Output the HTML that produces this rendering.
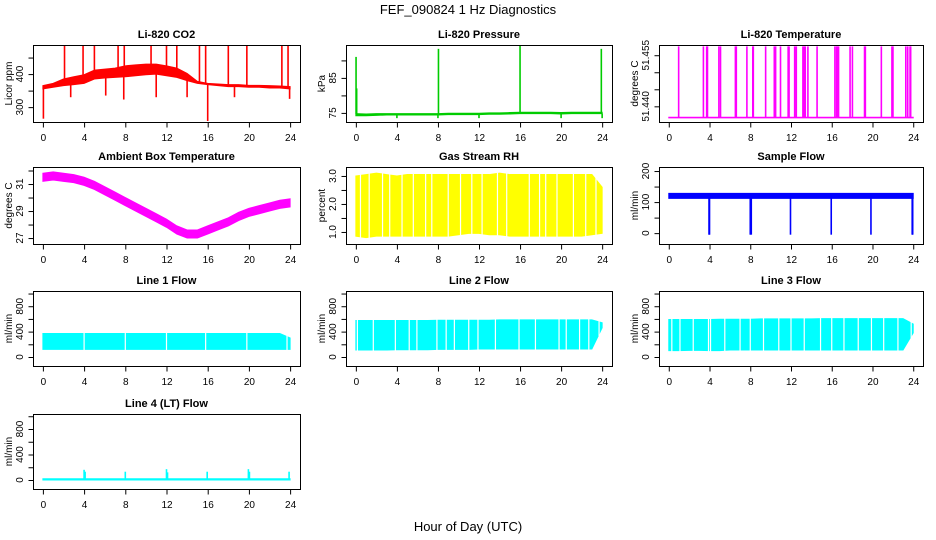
<!DOCTYPE html>
<html><head><meta charset="utf-8"><style>
html,body{margin:0;padding:0;background:#fff;}
svg{display:block;font-family:"Liberation Sans",sans-serif;}
</style></head><body>
<svg id="chart" width="936" height="540" viewBox="0 0 936 540">
<text x="468" y="14" text-anchor="middle" font-size="13">FEF_090824  1 Hz Diagnostics</text>
<text x="468" y="531" text-anchor="middle" font-size="13">Hour of Day (UTC)</text>
</svg>
<script>
const hours = [0,1,2,3,4,5,6,7,8,9,10,11,12,13,14,15,16,17,18,19,20,21,22,23,24];
const xTicks = [0,4,8,12,16,20,24];
// CO2
const co2Lo = [355,360,365,368,372,385,388,390,392,395,398,400,395,390,380,372,368,365,362,362,360,360,358,358,355];
const co2Hi = [365,372,385,392,398,412,415,418,425,428,430,430,425,418,402,378,372,370,368,368,366,366,365,364,362];
const co2SpikeH = [0.05,2.1,3.9,5.0,7.3,7.9,10.5,12.0,13.0,15.2,15.8,18.0,19.8,23.2,23.8,16.0,7.85,6.1,11.0,14.0,23.95,2.7,18.6];
const co2SpikeV = [265,488,488,488,488,488,488,488,488,488,488,488,488,488,488,258,323,335,330,330,325,330,330];
// Pressure
const prLo = [74.2,74.2,74.3,74.4,74.4,74.4,74.4,74.4,74.4,74.5,74.5,74.5,74.5,74.6,74.6,74.7,74.8,74.8,74.8,74.8,74.7,74.8,74.8,74.8,74.8];
const prHi = [74.8,74.7,74.8,74.8,74.8,74.8,74.8,74.8,74.8,74.9,74.9,74.9,74.9,75.0,75.0,75.1,75.2,75.2,75.2,75.2,75.1,75.2,75.2,75.2,75.2];
const prSpikeH = [0.02,0.08,8.05,16.0,23.92,4.0,8.0,12.0,20.0,24.0];
const prSpikeV = [91,82,93.3,94.2,93.3,73.5,73.5,73.5,73.5,73.5];
// Li-820 temperature
const ltLo = hours.map(()=>51.4366);
const ltHi = hours.map(()=>51.4368);
const ltSpikeH = [0.97,3.40,3.72,3.8,4.92,5.08,6.54,6.63,7.67,8.25,8.3,9.51,10.36,10.49,10.97,11.72,11.81,12.36,12.52,13.17,13.3,13.40,13.66,14.56,16.31,16.47,16.55,16.67,17.80,18.03,19.22,19.3,20.87,21.91,22.01,23.27,23.46,23.69,23.75];
const ltSpikeV = ltSpikeH.map(()=>51.4576);
// Ambient box temperature
const atLo = [31.2,31.3,31.2,31.1,30.9,30.6,30.2,29.8,29.4,29.0,28.6,28.2,27.8,27.3,27.0,27.0,27.3,27.6,27.9,28.3,28.6,28.8,29.0,29.2,29.3];
const atHi = [31.8,31.9,31.8,31.7,31.5,31.2,30.8,30.4,30.0,29.6,29.2,28.8,28.4,27.9,27.6,27.6,27.9,28.2,28.5,28.9,29.2,29.4,29.6,29.8,29.9];
// RH
const rhLo = [0.85,0.8,0.85,0.85,0.85,0.85,0.85,0.85,0.85,0.85,0.9,0.95,0.95,0.9,0.9,0.85,0.85,0.85,0.85,0.85,0.85,0.85,0.85,0.9,0.95];
const rhHi = [3.0,3.05,3.1,3.05,3.0,3.05,3.05,3.05,3.05,3.05,3.05,3.05,3.05,3.05,3.1,3.05,3.05,3.05,3.05,3.05,3.05,3.05,3.05,3.05,2.6];
const rhGapH = [0.45,1.3,2.6,3.3,4.5,5.6,6.8,7.4,9.0,10.2,11.3,12.3,13.8,14.7,16.9,17.9,18.5,19.6,21.2,22.4,23.4];
// Sample flow
const sfLo = hours.map(()=>112);
const sfHi = hours.map(()=>128);
const sfSpikeH = [3.95,4.0,8.0,8.1,11.95,15.95,19.85,23.9,23.95];
const sfSpikeV = [-5,-5,-5,-5,-5,-5,-5,-5,-5];
// Line 1 flow
const l1Lo = hours.map(()=>120);
const l1Hi = [370,370,370,370,370,370,370,370,370,370,370,370,370,370,370,370,370,370,370,370,370,370,370,370,300];
const l1GapH = [4.0,8.0,12.0,15.8,19.8,23.7];
// Line 2 flow
const l2Lo = [110,110,110,110,115,115,115,115,120,120,120,120,125,125,125,125,125,125,125,125,125,125,125,125,460];
const l2Hi = [575,575,575,575,575,575,575,575,580,580,580,580,580,580,585,585,585,585,585,585,585,585,585,585,540];
const l2GapH = [0.15,1.7,3.85,5.2,5.95,7.9,8.8,9.6,11.0,11.9,13.6,15.9,17.5,19.8,20.5,21.8,22.7,23.7];
// Line 3 flow
const l3Lo = [100,100,105,105,100,100,110,110,110,110,110,110,110,110,110,110,110,110,110,110,110,110,110,110,380];
const l3Hi = [590,590,590,590,590,595,595,595,595,600,600,600,600,600,600,605,605,605,605,605,605,605,605,605,520];
const l3GapH = [0.3,1.1,2.4,3.9,4.1,5.5,7.0,8.0,9.3,10.8,12.0,13.3,14.9,16.0,17.2,18.6,19.9,21.1,22.5,23.8];
// Line 4 flow
const l4Lo = hours.map(()=>0);
const l4Hi = hours.map(()=>20);
const l4SpikeH = [4.0,4.1,8.0,12.0,12.1,15.95,19.95,20.05,23.9];
const l4SpikeV = [160,130,130,170,120,130,170,130,130];

const svg = document.getElementById('chart');
const NS = 'http://www.w3.org/2000/svg';
function mk(tag, attrs, parent){const e=document.createElementNS(NS,tag);for(const k in attrs)e.setAttribute(k,attrs[k]);(parent||svg).appendChild(e);return e;}
function interp(arr,h){const i=Math.min(23,Math.max(0,Math.floor(h)));const f=h-i;return arr[i]*(1-f)+arr[i+1]*f;}

const colX=[[33,300],[346,612],[659,923]];
const rowY=[[45,122],[167,244],[291,366],[414,489]];
const panels=[
 {key:'co2',title:'Li-820 CO2',ylab:'Licor ppm',c:0,r:0,ylim:[255,488],yt:[300,350,400,450],yl:[300,400],col:'#ff0000',lo:co2Lo,hi:co2Hi,sh:co2SpikeH,sv:co2SpikeV},
 {key:'pressure',title:'Li-820 Pressure',ylab:'kPa',c:1,r:0,ylim:[72.4,94.4],yt:[75,80,85,90],yl:[75,85],col:'#00cc00',lo:prLo,hi:prHi,sh:prSpikeH,sv:prSpikeV},
 {key:'licor-temp',title:'Li-820 Temperature',ylab:'degrees C',c:2,r:0,ylim:[51.4354,51.458],yt:[51.440,51.445,51.450,51.455],yl:[51.440,51.455],dec:3,col:'#ff00ff',lo:ltLo,hi:ltHi,sh:ltSpikeH,sv:ltSpikeV},
 {key:'ambient-temp',title:'Ambient Box Temperature',ylab:'degrees C',c:0,r:1,ylim:[26.56,32.26],yt:[27,28,29,30,31,32],yl:[27,29,31],col:'#ff00ff',lo:atLo,hi:atHi},
 {key:'rh',title:'Gas Stream RH',ylab:'percent',c:1,r:1,ylim:[0.57,3.32],yt:[1.0,1.5,2.0,2.5,3.0],yl:[1.0,2.0,3.0],dec:1,col:'#ffff00',lo:rhLo,hi:rhHi,gaps:rhGapH},
 {key:'sample-flow',title:'Sample Flow',ylab:'ml/min',c:2,r:1,ylim:[-35,213],yt:[0,50,100,150,200],yl:[0,100,200],col:'#0000ff',lo:sfLo,hi:sfHi,sh:sfSpikeH,sv:sfSpikeV},
 {key:'line1-flow',title:'Line 1 Flow',ylab:'ml/min',c:0,r:2,ylim:[-142,1040],yt:[0,200,400,600,800,1000],yl:[0,400,800],col:'#00ffff',lo:l1Lo,hi:l1Hi,gaps:l1GapH},
 {key:'line2-flow',title:'Line 2 Flow',ylab:'ml/min',c:1,r:2,ylim:[-142,1040],yt:[0,200,400,600,800,1000],yl:[0,400,800],col:'#00ffff',lo:l2Lo,hi:l2Hi,gaps:l2GapH},
 {key:'line3-flow',title:'Line 3 Flow',ylab:'ml/min',c:2,r:2,ylim:[-142,1040],yt:[0,200,400,600,800,1000],yl:[0,400,800],col:'#00ffff',lo:l3Lo,hi:l3Hi,gaps:l3GapH},
 {key:'line4-flow',title:'Line 4 (LT) Flow',ylab:'ml/min',c:0,r:3,ylim:[-141,1035],yt:[0,200,400,600,800,1000],yl:[0,400,800],col:'#00ffff',lo:l4Lo,hi:l4Hi,sh:l4SpikeH,sv:l4SpikeV}
];

panels.forEach(p=>{
 const [x0,x1]=colX[p.c],[y0,y1]=rowY[p.r];
 const g=mk('g',{});
 
 
 const sx=h=>x0+(h+0.96)/25.92*(x1-x0);
 const sy=v=>y1-(v-p.ylim[0])/(p.ylim[1]-p.ylim[0])*(y1-y0);
 const cp='cp-'+p.key;
 const cl=mk('clipPath',{id:cp},g);mk('rect',{x:x0,y:y0,width:x1-x0,height:y1-y0},cl);
 const plot=mk('g',{'clip-path':'url(#'+cp+')'},g);
 let pts=hours.map((h,i)=>sx(h)+','+sy(p.hi[i]));
 pts=pts.concat(hours.slice().reverse().map((h,j)=>sx(h)+','+sy(p.lo[hours.length-1-j])));
 const band=mk('polygon',{points:pts.join(' '),fill:p.col,stroke:p.col,'stroke-width':1},plot);
 
 
 if(p.gaps){p.gaps.forEach(h=>{
   const gl=mk('line',{x1:sx(h),x2:sx(h),y1:sy(interp(p.hi,h))-2,y2:sy(interp(p.lo,h))+2,stroke:'#fff','stroke-width':1.2},plot);
   
   
 });}
 if(p.sh){p.sh.forEach((h,i)=>{
   const v=p.sv[i];const base=v>interp(p.hi,h)?interp(p.hi,h):interp(p.lo,h);
   const sl=mk('line',{x1:sx(h),x2:sx(h),y1:sy(base),y2:sy(v),stroke:p.col,'stroke-width':1.6},plot);
   
   
 });}
 const box=mk('rect',{x:x0+0.5,y:y0+0.5,width:x1-x0,height:y1-y0,fill:'none',stroke:'#000','stroke-width':1},g);
 
 
 const xa=mk('g',{},g);
 
 
 xTicks.forEach(t=>{
   mk('line',{x1:sx(t)+0.5,x2:sx(t)+0.5,y1:y1+0.5,y2:y1+5.5,stroke:'#000'},xa);
   const tx=mk('text',{x:sx(t)+0.5,y:y1+19,'text-anchor':'middle','font-size':10},xa);tx.textContent=t;
 });
 const ya=mk('g',{},g);
 
 
 const ax=x0+0.5;
 p.yt.forEach(t=>{mk('line',{x1:ax-5,x2:ax,y1:sy(t)+0.5,y2:sy(t)+0.5,stroke:'#000'},ya);});
 p.yl.forEach(t=>{
   const yy=sy(t),xx=x0-10;
   const tx=mk('text',{x:xx,y:yy,'text-anchor':'middle','font-size':10,transform:'rotate(-90 '+xx+' '+yy+')'},ya);
   tx.textContent=p.dec?t.toFixed(p.dec):t;
 });
 const lx=x0-21,ly=(y0+y1)/2;
 const yl=mk('text',{x:lx,y:ly,'text-anchor':'middle','font-size':10,transform:'rotate(-90 '+lx+' '+ly+')'},g);
 yl.textContent=p.ylab;
 
 
 const tt=mk('text',{x:(x0+x1)/2,y:y0-7,'text-anchor':'middle','font-size':11,'font-weight':'bold'},g);
 tt.textContent=p.title;
 
 
});
</script>
</body></html>
